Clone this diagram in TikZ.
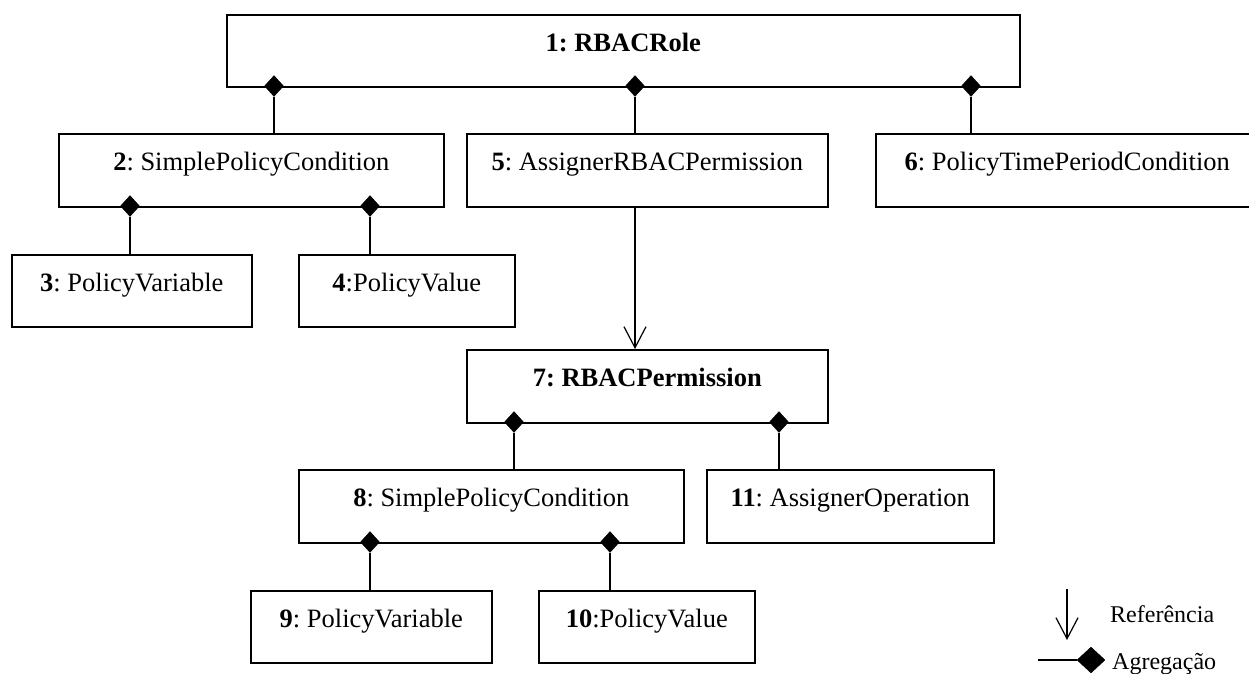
\documentclass[tikz,border=0pt]{standalone}
\usepackage{fontspec}
\setmainfont{Liberation Serif}
\usetikzlibrary{arrows.meta,shapes.geometric,calc}
\frenchspacing

% object box: name, x1, y1, x2, y2, caption
\newcommand{\objbox}[6]{%
  \node[umlbox, minimum width={(#4-#2)*1pt}, minimum height={(#5-#3)*1pt}] (#1) at (#2,#3) {};
  \node[boxtext] (#1t) at ($(#1.north)+(0,37)$) {#6};}

\begin{document}
\begin{tikzpicture}[x=1pt,y=-1pt,
  umlbox/.style={draw, line width=1.6pt, inner sep=0pt, anchor=north west},
  boxtext/.style={anchor=base, inner sep=0pt, font=\fontsize{26.5}{30}\selectfont},
  legtext/.style={anchor=base west, inner sep=0pt, font=\fontsize{24}{28}\selectfont},
  aggdia/.style={diamond, fill=black, draw=black, line width=0.4pt, inner sep=0pt,
                 minimum width=19pt, minimum height=21pt},
  link/.style={line width=1.6pt},
  ref/.style={line width=1.2pt, -{Straight Barb[length=21pt,width=22pt,line width=1.2pt]}}
]
\useasboundingbox (0,0) rectangle (1249,673);
\clip (0,0) rectangle (1249,673);

% objects
\objbox{b1}{226}{14}{1019}{86}{\textbf{1: RBACRole}}
\objbox{b2}{58}{133}{443}{206}{\textbf{2}: SimplePolicyCondition}
\objbox{b5}{466}{133}{827}{206}{\textbf{5}: AssignerRBACPermission}
\objbox{b6}{875}{133}{1258}{206}{\textbf{6}: PolicyTimePeriodCondition}
\objbox{b3}{11}{254}{251}{326}{\textbf{3}: PolicyVariable}
\objbox{b4}{298}{254}{514}{326}{\textbf{4}:PolicyValue}
\objbox{b7}{466}{349}{827}{422}{\textbf{7: RBACPermission}}
\objbox{b8}{298}{469}{683}{542}{\textbf{8}: SimplePolicyCondition}
\objbox{b11}{706}{469}{993}{542}{\textbf{11}: AssignerOperation}
\objbox{b9}{250}{590}{491}{662}{\textbf{9}: PolicyVariable}
\objbox{b10}{538}{590}{754}{662}{\textbf{10}:PolicyValue}

% aggregation diamonds on the owners' lower edges
\node[aggdia] (d12) at (274,86) {};
\node[aggdia] (d15) at (635,86) {};
\node[aggdia] (d16) at (971,86) {};
\node[aggdia] (d23) at (130,206) {};
\node[aggdia] (d24) at (370,206) {};
\node[aggdia] (d78) at (514,422) {};
\node[aggdia] (d711) at (779,422) {};
\node[aggdia] (d89) at (370,542) {};
\node[aggdia] (d810) at (610,542) {};

% aggregation links
\draw[link] (d12.south) -- (b2.north -| d12.south);
\draw[link] (d15.south) -- (b5.north -| d15.south);
\draw[link] (d16.south) -- (b6.north -| d16.south);
\draw[link] (d23.south) -- (b3.north -| d23.south);
\draw[link] (d24.south) -- (b4.north -| d24.south);
\draw[link] (d78.south) -- (b8.north -| d78.south);
\draw[link] (d711.south) -- (b11.north -| d711.south);
\draw[link] (d89.south) -- (b9.north -| d89.south);
\draw[link] (d810.south) -- (b10.north -| d810.south);

% reference
\draw[ref] (b5.south -| d15) -- (b7.north -| d15);

% legend
\coordinate (lgA) at (1067,589);
\coordinate (lgB) at (1067,640);
\draw[ref] (lgA) -- (lgB);
\node[legtext] (lgR) at (1110,622) {Referência};
\coordinate (lgC) at (1038,660);
\node[aggdia, minimum width=28pt, minimum height=26pt] (lgD) at (1091,660) {};
\draw[link] (lgC) -- (lgD.west);
\node[legtext] (lgG) at (1112,669) {Agregação};
\end{tikzpicture}
\end{document}
